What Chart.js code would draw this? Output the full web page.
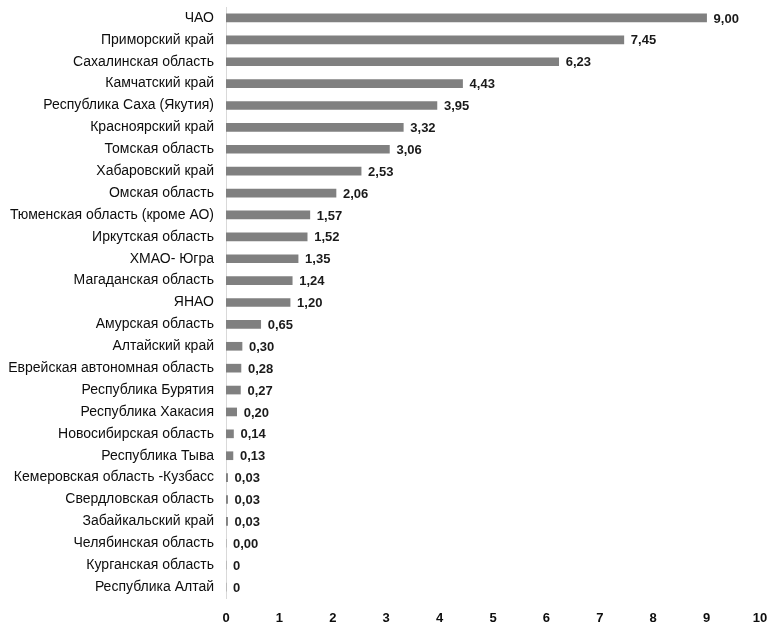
<!DOCTYPE html>
<html>
<head>
<meta charset="utf-8">
<script src="https://cdn.jsdelivr.net/npm/chart.js@4/dist/chart.umd.min.js"></script>
<style>
  html, body { margin: 0; padding: 0; background: #fff; }
  #wrap { width: 770px; height: 627px; }
</style>
</head>
<body>
<div id="wrap"><canvas id="c" width="770" height="627"></canvas></div>
<script>
const regions = [
  'ЧАО', 'Приморский край', 'Сахалинская область', 'Камчатский край',
  'Республика Саха (Якутия)', 'Красноярский край', 'Томская область',
  'Хабаровский край', 'Омская область', 'Тюменская область (кроме АО)',
  'Иркутская область', 'ХМАО- Югра', 'Магаданская область', 'ЯНАО',
  'Амурская область', 'Алтайский край', 'Еврейская автономная область',
  'Республика Бурятия', 'Республика Хакасия', 'Новосибирская область',
  'Республика Тыва', 'Кемеровская область -Кузбасс', 'Свердловская область',
  'Забайкальский край', 'Челябинская область', 'Курганская область',
  'Республика Алтай'
];
const values = [
  9.00, 7.45, 6.23, 4.43, 3.95, 3.32, 3.06, 2.53, 2.06, 1.57, 1.52, 1.35,
  1.24, 1.20, 0.65, 0.30, 0.28, 0.27, 0.20, 0.14, 0.13, 0.03, 0.03, 0.03,
  0.00, 0, 0
];
const valueLabels = [
  '9,00', '7,45', '6,23', '4,43', '3,95', '3,32', '3,06', '2,53', '2,06',
  '1,57', '1,52', '1,35', '1,24', '1,20', '0,65', '0,30', '0,28', '0,27',
  '0,20', '0,14', '0,13', '0,03', '0,03', '0,03', '0,00', '0', '0'
];
const xTicks = [0, 1, 2, 3, 4, 5, 6, 7, 8, 9, 10];

const FONT = '"Liberation Sans Narrow", "Arial Narrow", "Liberation Sans", sans-serif';

// writes each bar's value just past its end
const barValueLabels = {
  id: 'barValueLabels',
  afterDatasetsDraw(chart) {
    const ctx = chart.ctx;
    const meta = chart.getDatasetMeta(0);
    ctx.save();
    ctx.font = 'bold 13px ' + FONT;
    ctx.fillStyle = '#1a1a1a';
    ctx.textAlign = 'left';
    ctx.textBaseline = 'middle';
    meta.data.forEach((bar, i) => {
      ctx.fillText(valueLabels[i], bar.x + 7, bar.y + 1);
    });
    ctx.restore();
  }
};

new Chart(document.getElementById('c'), {
  type: 'bar',
  data: {
    labels: regions,
    datasets: [{
      data: values,
      backgroundColor: '#808080',
      borderWidth: 0,
      barThickness: 8
    }]
  },
  options: {
    indexAxis: 'y',
    responsive: false,
    animation: false,
    layout: { padding: { top: 7, right: 10, bottom: 0, left: 0 } },
    plugins: {
      legend: { display: false },
      tooltip: { enabled: false }
    },
    scales: {
      y: {
        grid: { display: false, drawTicks: false },
        border: { display: true, color: '#d9d9d9', width: 1 },
        ticks: {
          color: '#0d0d0d',
          font: { family: FONT, size: 14 },
          padding: 12,
          autoSkip: false
        },
        afterFit(scale) {
          scale.width = 226;
          scale.paddingTop = 0;
          scale.paddingBottom = 0;
        }
      },
      x: {
        min: 0,
        max: 10,
        afterBuildTicks(scale) { scale.ticks = xTicks.map(v => ({ value: v })); },
        grid: { display: false, drawTicks: false },
        border: { display: false },
        ticks: {
          color: '#0d0d0d',
          font: { family: FONT, size: 13, weight: 'bold' },
          padding: 13,
          maxRotation: 0
        },
        afterFit(scale) {
          scale.height = 29;
          scale.paddingLeft = 0;
          scale.paddingRight = 0;
        }
      }
    }
  },
  plugins: [barValueLabels]
});
</script>
</body>
</html>
